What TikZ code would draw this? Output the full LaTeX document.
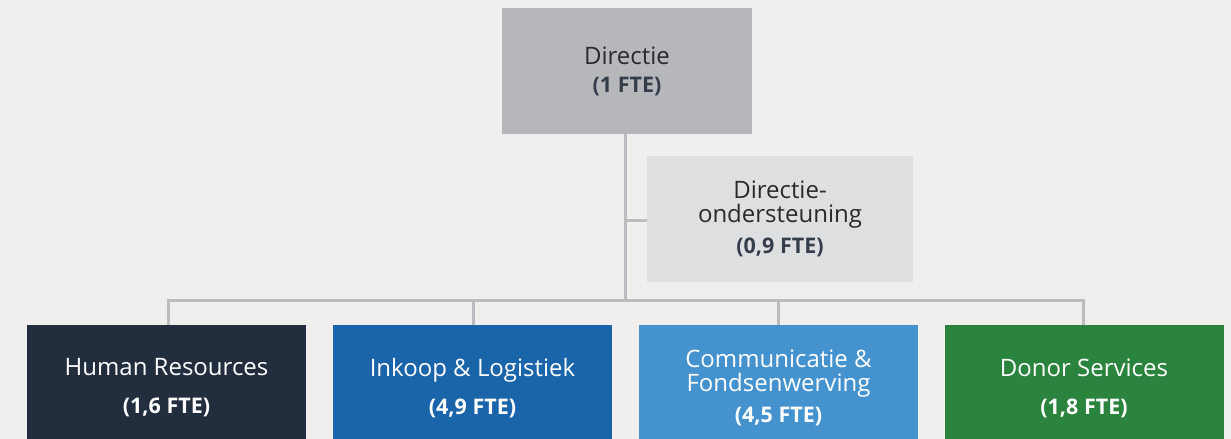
\documentclass[tikz,border=0pt]{standalone}
\usepackage{fontspec}
\setmainfont{Open Sans}
\definecolor{bgc}{HTML}{F0EFED}
\definecolor{linec}{HTML}{BBBCC0}
\definecolor{dirc}{HTML}{B6B7BB}
\definecolor{ondc}{HTML}{DEDFE0}
\definecolor{darktxt}{HTML}{2A2A2A}
\definecolor{ftetxt}{HTML}{343D4A}
\definecolor{hrc}{HTML}{222E3E}
\definecolor{inkc}{HTML}{1A64AA}
\definecolor{comc}{HTML}{4593CE}
\definecolor{donc}{HTML}{2B843E}
\newcommand{\ttl}{\fontsize{24bp}{24bp}\selectfont}
\newcommand{\fte}{\fontsize{21.5bp}{24bp}\selectfont\bfseries}
\tikzset{
  box/.style={rectangle, inner sep=0pt, align=center, minimum height=126bp, font=\ttl},
  topbox/.style={box, fill=dirc, minimum width=250bp, text=darktxt},
  ondbox/.style={box, fill=ondc, minimum width=266bp, text=darktxt},
  unitbox/.style={box, minimum width=279bp, text=white},
  conn/.style={draw=linec, line width=3bp},
}
\begin{document}
\begin{tikzpicture}[x=1bp,y=-1bp]
\fill[bgc] (0,0) rectangle (1231,439);
\useasboundingbox (0,0) rectangle (1231,439);
\clip (0,0) rectangle (1231,439);
\node[topbox] (dir) at (627,71) {Directie\\[4bp]{\fte\color{ftetxt}(1 FTE)}};
\node[ondbox] (ond) at (780,219) {Directie-\\ondersteuning\\[7bp]{\fte\color{ftetxt}(0,9 FTE)}};
\node[unitbox, fill=hrc] (hr) at (166.5,388) {Human Resources\\[14bp]{\fte(1,6 FTE)}};
\node[unitbox, fill=inkc] (ink) at (472.5,388) {Inkoop \& Logistiek\\[14bp]{\fte(4,9 FTE)}};
\node[unitbox, fill=comc] (com) at (778.5,388) {Communicatie \&\\Fondsenwerving\\[7bp]{\fte(4,5 FTE)}};
\node[unitbox, fill=donc] (don) at (1084,388) {Donor Services\\[14bp]{\fte(1,8 FTE)}};
\coordinate (bus) at (625,301);
\coordinate (busL) at (168,301);
\coordinate (busR) at (1083,301);
\draw[conn] (dir.south -| bus) -- (bus);
\draw[conn] (ond.west |- 0,221) -- (625,221);
\draw[conn, line cap=rect] (busL) -- (busR);
\draw[conn] (busL) -- (busL |- hr.north);
\draw[conn] (473,301) -- (473,301 |- ink.north);
\draw[conn] (778,301) -- (778,301 |- com.north);
\draw[conn] (busR) -- (busR |- don.north);
\end{tikzpicture}
\end{document}
